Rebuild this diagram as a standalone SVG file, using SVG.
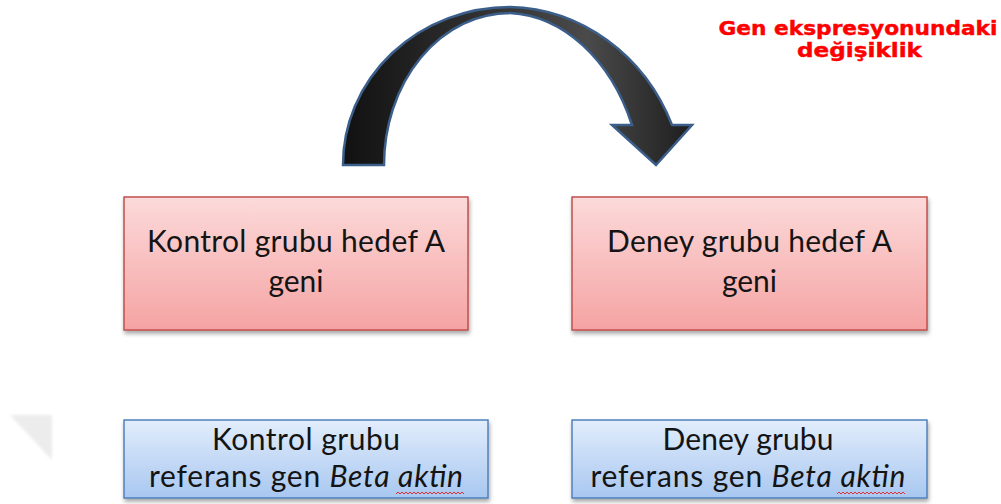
<svg xmlns="http://www.w3.org/2000/svg" width="1001" height="504" viewBox="0 0 1001 504">
<style>
.box-text{font-family:Lato,"Liberation Sans",sans-serif;font-size:30px;fill:#141414;text-anchor:middle}
.note{font-family:"DejaVu Sans",Verdana,sans-serif;font-weight:bold;font-size:19px;fill:#ff0000;text-anchor:middle;stroke:#ff0000;stroke-width:0.4}
.red{fill:url(#redGrad);stroke:#c0504d;stroke-width:1.5}
.blue{fill:url(#blueGrad);stroke:#4f81bd;stroke-width:1.5}
.wave{fill:none;stroke:#e03030;stroke-width:1}
</style>
<defs>
<linearGradient id="redGrad" x1="0" y1="0" x2="0" y2="1">
<stop offset="0" stop-color="#fcdada"/>
<stop offset="1" stop-color="#f5a3a3"/>
</linearGradient>
<linearGradient id="blueGrad" x1="0" y1="0" x2="0" y2="1">
<stop offset="0" stop-color="#e2edfc"/>
<stop offset="1" stop-color="#a8c7f0"/>
</linearGradient>
<linearGradient id="arrowGrad" x1="0" y1="0" x2="1" y2="0">
<stop offset="0" stop-color="#111111"/>
<stop offset="0.7" stop-color="#4a4a4a"/>
<stop offset="1" stop-color="#1e1e1e"/>
</linearGradient>
<filter id="shadow" x="-10%" y="-10%" width="120%" height="130%">
<feGaussianBlur in="SourceAlpha" stdDeviation="2"/>
<feOffset dx="1" dy="3" result="b"/>
<feComponentTransfer><feFuncA type="linear" slope="0.35"/></feComponentTransfer>
<feMerge><feMergeNode/><feMergeNode in="SourceGraphic"/></feMerge>
</filter>
<filter id="soft"><feGaussianBlur stdDeviation="1.5"/></filter>
</defs>
<rect width="1001" height="504" fill="#ffffff"/>
<polygon points="10,415 52,415 52,460" fill="#ececec" filter="url(#soft)"/>

<g id="connectors">
<path d="M343,165 A167,158 0 0,1 510,7 A180,193 0 0,1 672,125 L692,125 L656,165 L612,125 L632,125 A139,187 0 0,0 510,13 A126,152 0 0,0 384,165 Z" fill="url(#arrowGrad)" stroke="#3b5f8a" stroke-width="2.5" stroke-linejoin="miter"/>
</g>

<g id="note">
<text class="note" x="858" y="35" textLength="279" lengthAdjust="spacingAndGlyphs">Gen ekspresyonundaki</text>
<text class="note" x="859.5" y="57" textLength="125" lengthAdjust="spacingAndGlyphs">değişiklik</text>
</g>

<g id="node-kontrol-hedef">
<rect class="red" x="124" y="197" width="344" height="133" filter="url(#shadow)"/>
<text class="box-text" x="296" y="252" textLength="298">Kontrol grubu hedef A</text>
<text class="box-text" x="296" y="292">geni</text>
</g>

<g id="node-deney-hedef">
<rect class="red" x="572" y="197" width="355" height="133" filter="url(#shadow)"/>
<text class="box-text" x="749.5" y="252" textLength="285">Deney grubu hedef A</text>
<text class="box-text" x="749.5" y="292">geni</text>
</g>

<g id="node-kontrol-referans">
<rect class="blue" x="124" y="420" width="364" height="78" filter="url(#shadow)"/>
<text class="box-text" x="306" y="450" textLength="188">Kontrol grubu</text>
<text class="box-text" x="306" y="487" textLength="314">referans gen <tspan font-style="italic">Beta aktin</tspan></text>
<path class="wave" d="M396,494 l2,-2 l2,2 l2,-2 l2,2 l2,-2 l2,2 l2,-2 l2,2 l2,-2 l2,2 l2,-2 l2,2 l2,-2 l2,2 l2,-2 l2,2 l2,-2 l2,2 l2,-2 l2,2 l2,-2 l2,2 l2,-2 l2,2 l2,-2 l2,2 l2,-2 l2,2 l2,-2 l2,2 l2,-2 l2,2 l2,-2 l2,2"/>
</g>

<g id="node-deney-referans">
<rect class="blue" x="572" y="420" width="355" height="78" filter="url(#shadow)"/>
<text class="box-text" x="748" y="450" textLength="171">Deney grubu</text>
<text class="box-text" x="748" y="487" textLength="315">referans gen <tspan font-style="italic">Beta aktin</tspan></text>
<path class="wave" d="M837,494 l2,-2 l2,2 l2,-2 l2,2 l2,-2 l2,2 l2,-2 l2,2 l2,-2 l2,2 l2,-2 l2,2 l2,-2 l2,2 l2,-2 l2,2 l2,-2 l2,2 l2,-2 l2,2 l2,-2 l2,2 l2,-2 l2,2 l2,-2 l2,2 l2,-2 l2,2 l2,-2 l2,2 l2,-2 l2,2 l2,-2 l2,2"/>
</g>
</svg>
